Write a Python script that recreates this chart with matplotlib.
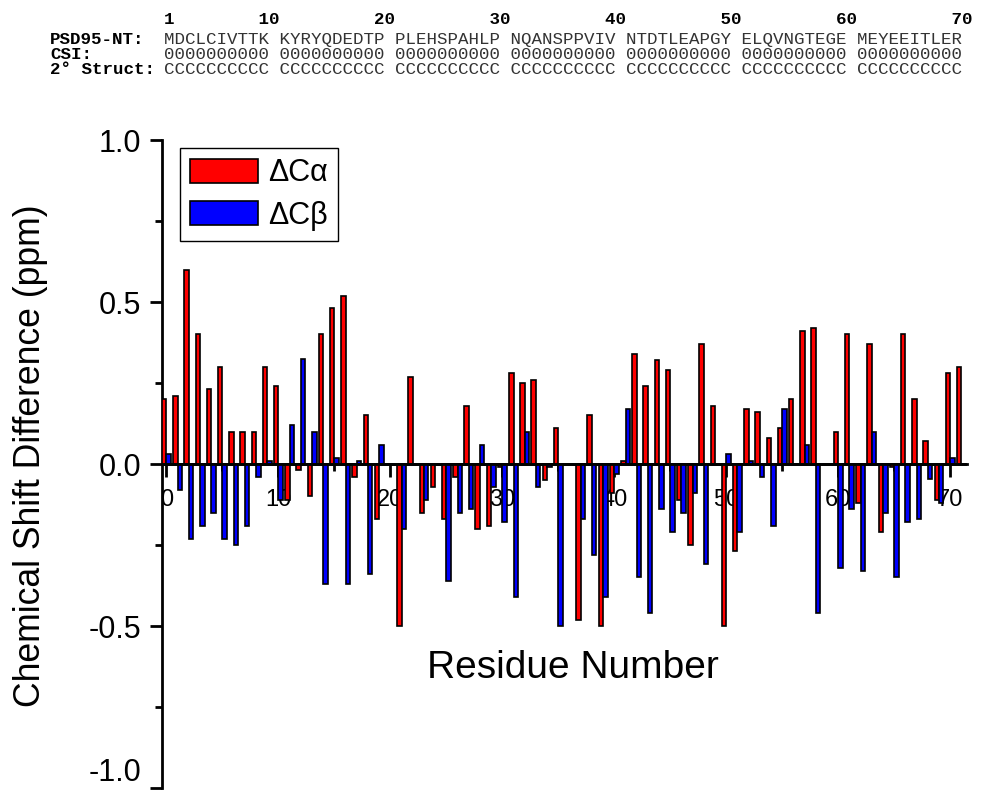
import numpy as np
import matplotlib
matplotlib.use('Agg')
import matplotlib.pyplot as plt
from matplotlib.ticker import MultipleLocator

plt.rcParams['font.family'] = ['Liberation Sans', 'DejaVu Sans']

# valores (residuos 0..71)
residuos = np.arange(72)
delta_ca = [0.20, 0.21, 0.60, 0.40, 0.23, 0.30, 0.10, 0.10, 0.10, 0.30,
            0.24, -0.11, -0.02, -0.10, 0.40, 0.48, 0.52, -0.04, 0.15, -0.17,
            0.0, -0.50, 0.27, -0.15, -0.07, -0.17, -0.04, 0.18, -0.20, -0.19,
            -0.01, 0.28, 0.25, 0.26, -0.05, 0.11, 0.0, -0.48, 0.15, -0.50,
            -0.09, 0.01, 0.34, 0.24, 0.32, 0.29, -0.11, -0.25, 0.37, 0.18,
            -0.50, -0.27, 0.17, 0.16, 0.08, 0.11, 0.20, 0.41, 0.42, 0.0,
            0.10, 0.40, -0.12, 0.37, -0.21, -0.01, 0.40, 0.20, 0.07, -0.11,
            0.28, 0.30]
delta_cb = [0.03, -0.08, -0.23, -0.19, -0.15, -0.23, -0.25, -0.19, -0.04, 0.01,
            -0.11, 0.12, 0.325, 0.10, -0.37, 0.02, -0.37, 0.01, -0.34, 0.06,
            0.0, -0.20, 0.0, -0.11, 0.0, -0.36, -0.15, -0.14, 0.06, -0.07,
            -0.18, -0.41, 0.10, -0.07, -0.01, -0.50, 0.0, -0.17, -0.28, -0.41,
            -0.03, 0.17, -0.35, -0.46, -0.14, -0.21, -0.15, -0.09, -0.31, 0.0,
            0.03, -0.21, 0.01, -0.04, -0.19, 0.17, 0.0, 0.06, -0.46, 0.0,
            -0.32, -0.14, -0.33, 0.10, -0.15, -0.35, -0.18, -0.17, -0.045, -0.12,
            0.02, 0.0]

secuencia = 'MDCLCIVTTK KYRYQDEDTP PLEHSPAHLP NQANSPPVIV NTDTLEAPGY ELQVNGTEGE MEYEEITLER'
csi = ' '.join(['0000000000'] * 7)
estructura = ' '.join(['CCCCCCCCCC'] * 7)
numeros = [1, 10, 20, 30, 40, 50, 60, 70]

fig = plt.figure(figsize=(9.82, 7.99), dpi=100)
ax = fig.add_axes([162 / 982, 11 / 799, 805 / 982, 648 / 799])

ancho = 0.4
ax.bar(residuos - ancho / 2, delta_ca, width=ancho, color='#ff0000',
       edgecolor='black', linewidth=1.2, label='ΔCα', zorder=3)
ax.bar(residuos + ancho / 2, delta_cb, width=ancho, color='#0000ff',
       edgecolor='black', linewidth=1.2, label='ΔCβ', zorder=3)
ax.axhline(0, color='black', linewidth=2, zorder=4)

ax.set_xlim(-0.4, 71.5)
ax.set_ylim(-1, 1)
ax.spines['top'].set_visible(False)
ax.spines['right'].set_visible(False)
ax.spines['bottom'].set_position(('data', 0))
ax.spines['left'].set_linewidth(2)
ax.spines['bottom'].set_linewidth(2)

ax.xaxis.set_major_locator(MultipleLocator(10))
ax.xaxis.set_minor_locator(MultipleLocator(5))
ax.yaxis.set_minor_locator(MultipleLocator(0.25))
ax.set_yticks([-1, -0.5, 0, 0.5, 1])
ax.set_yticklabels(['-1.0', '-0.5', '0.0', '0.5', '1.0'])
ax.tick_params(axis='both', which='major', length=9, width=2, direction='out')
ax.tick_params(axis='both', which='minor', length=5, width=2, direction='out')
ax.tick_params(axis='x', which='major', labelsize=17, pad=9)
ax.tick_params(axis='y', which='major', labelsize=22, pad=6)
# la etiqueta -1.0 queda dentro de la imagen
ax.get_yticklabels()[0].set_verticalalignment('bottom')

ax.text(0.51, 0.185, 'Residue Number', transform=ax.transAxes,
        ha='center', va='center', fontsize=28)
fig.text(31 / 982, 1 - 456 / 799, 'Chemical Shift Difference (ppm)',
         rotation=90, ha='center', va='center', fontsize=25.6)

leg = ax.legend(loc='upper left', bbox_to_anchor=(0.022, 0.988), fontsize=22,
                handlelength=2.2, handleheight=0.85, handletextpad=0.33,
                labelspacing=0.4, borderpad=0.35, borderaxespad=0,
                fancybox=False, framealpha=1, edgecolor='black')
leg.get_frame().set_linewidth(1)

# cabecera con la secuencia
fila_num = [' '] * 77
for n in numeros:
    txt = str(n)
    col = n - 1 + (n - 1) // 10
    if n == 1:
        fila_num[0] = '1'
    else:
        fila_num[col] = txt[0]
        fila_num[col + 1] = txt[1]
fila_num = ''.join(fila_num)

mono = 'Liberation Mono'
x_seq = 164 / 982
filas = [(20, None, fila_num, 'bold'),
         (39.5, 'PSD95-NT:', secuencia, 'normal'),
         (54.5, 'CSI:', csi, 'normal'),
         (69, '2° Struct:', estructura, 'normal')]
for y, etiqueta, texto, peso in filas:
    yf = 1 - y / 799
    fig.text(x_seq, yf, texto, family=mono, fontsize=12.6, weight=peso,
             ha='left', va='center', color='#333333' if peso == 'normal' else 'black')
    if etiqueta:
        fig.text(50 / 982, yf, etiqueta, family=mono, fontsize=12.6,
                 weight='bold', ha='left', va='center')

plt.savefig('out.png', dpi=100)
